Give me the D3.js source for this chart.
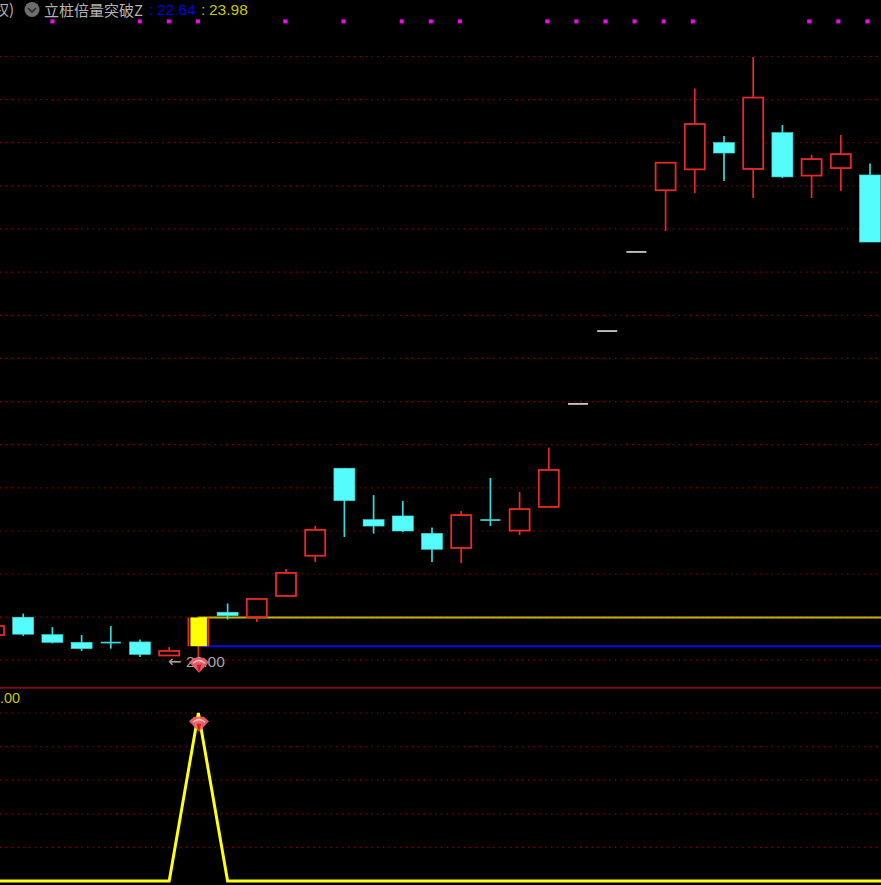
<!DOCTYPE html>
<html><head><meta charset="utf-8">
<script src="https://cdn.jsdelivr.net/npm/d3@7"></script>
<style>html,body{margin:0;padding:0;background:#000;overflow:hidden}svg{display:block}</style>
</head><body><svg id="c" width="881" height="885"></svg>
<script>
const opens =[23.16,23.99,23.18,22.82,22.81,22.84,22.21,22.64,24.22,24.00,24.98,26.85,30.92,28.53,28.70,27.89,27.21,28.51,28.02,29.12,33.91,37.30,40.98,43.85,44.82,46.07,44.84,46.53,44.53,44.88,44.56];
const closes=[23.58,23.20,22.82,22.53,22.77,22.26,22.42,23.98,24.06,24.84,26.05,28.05,29.41,28.23,28.00,27.15,28.74,28.47,29.02,30.84,33.91,37.30,40.98,45.13,46.93,45.58,48.16,44.47,45.30,45.53,41.44];
const highs =[23.58,24.16,23.53,23.16,23.58,22.95,22.60,24.02,24.63,24.84,26.23,28.23,30.92,29.67,29.40,28.16,28.93,30.47,29.81,31.88,33.91,37.30,40.98,45.13,48.58,46.37,50.05,46.88,45.49,46.42,45.09];
const lows  =[23.16,23.12,22.77,22.42,22.53,22.14,22.21,22.00,23.88,23.77,24.93,26.56,27.72,27.88,27.95,26.56,26.51,28.23,27.81,29.12,33.91,37.30,40.98,41.95,43.72,44.28,43.49,44.42,43.49,43.81,41.44];
const priceTicks=[21.99,23.99,26.00,28.00,30.01,32.02,34.02,36.03,38.03,40.04,42.05,44.05,46.06,48.06,50.07];
const signalFlags=[2,5,6,7,10,12,14,15,16,19,20,21,22,23,24,28,29,30];
const indicator=[0,0,0,0,0,0,0,1,0,0,0,0,0,0,0,0,0,0,0,0,0,0,0,0,0,0,0,0,0,0,0,0];
const indicatorTicks=[0.2,0.4,0.6,0.8,1];
const limitUpIndex=7, upperLevel=23.98, lowerLevel=22.64, lowLabel="22.00";

const svg=d3.select("#c");
const W=881;
const x=d3.scaleLinear().domain([0,30]).range([-6,870]);
const fx=d3.scaleLinear().domain([0,30]).range([-5.8,867.4]);
const py=d3.scaleLinear().domain([22,50]).range([660,58]);
const iy=d3.scaleLinear().domain([0,1]).range([881,713]);
const RED="#e62a2a",CY="#54fcfc",GRID="#8a0000";
const hw=10;

// grids
svg.append("g").selectAll("line").data(priceTicks).join("line")
 .attr("x1",0).attr("x2",W).attr("y1",d=>py(d)).attr("y2",d=>py(d))
 .attr("stroke",GRID).attr("stroke-width",1.2).attr("stroke-dasharray","1.5 4.3");
svg.append("g").selectAll("line").data(indicatorTicks).join("line")
 .attr("x1",0).attr("x2",W).attr("y1",d=>iy(d)).attr("y2",d=>iy(d))
 .attr("stroke",GRID).attr("stroke-width",1.2).attr("stroke-dasharray","1.5 4.3");
svg.append("line").attr("x1",0).attr("x2",W).attr("y1",687.7).attr("y2",687.7).attr("stroke","#7d0b0b").attr("stroke-width",2);

// flags
svg.append("g").selectAll("rect").data(signalFlags).join("rect")
 .attr("x",d=>fx(d)-2).attr("y",19.4).attr("width",4).attr("height",4).attr("fill","#ff00ff");

// levels
const lx=x(limitUpIndex);
svg.append("line").attr("x1",lx).attr("x2",W).attr("y1",py(upperLevel)).attr("y2",py(upperLevel)).attr("stroke","#c8b400").attr("stroke-width",1.9);
svg.append("line").attr("x1",lx).attr("x2",W).attr("y1",py(lowerLevel)).attr("y2",py(lowerLevel)).attr("stroke","#0a0af0").attr("stroke-width",1.9);

// candles
const idx=d3.range(opens.length);
const g=svg.append("g");
idx.forEach(i=>{
  const o=opens[i],c=closes[i],h=highs[i],l=lows[i],cx=x(i);
  if(o===c){ // one-price
    g.append("line").attr("x1",cx-10).attr("x2",cx+10).attr("y1",py(o)).attr("y2",py(o)).attr("stroke","#f0f0f0").attr("stroke-width",1.5);
    return;
  }
  const up=c>o, col=up?RED:CY, t=py(Math.max(o,c)), b=py(Math.min(o,c));
  g.append("line").attr("x1",cx).attr("x2",cx).attr("y1",py(h)).attr("y2",py(l)).attr("stroke",up?RED:"#3cd8d8").attr("stroke-width",1.7);
  if(i===limitUpIndex){
    g.append("rect").attr("x",cx-8).attr("y",t).attr("width",16.5).attr("height",b-t).attr("fill","#ffff00");
    g.append("line").attr("x1",cx-10).attr("x2",cx-10).attr("y1",t).attr("y2",b).attr("stroke",RED).attr("stroke-width",1.8);
    g.append("line").attr("x1",cx+10).attr("x2",cx+10).attr("y1",t).attr("y2",b).attr("stroke",RED).attr("stroke-width",1.8);
  } else if(up){
    g.append("rect").attr("x",cx-hw).attr("y",t).attr("width",hw*2).attr("height",b-t).attr("fill","#000").attr("stroke",col).attr("stroke-width",1.8);
  } else if(b-t<2){
    g.append("line").attr("x1",cx-10).attr("x2",cx+10).attr("y1",t).attr("y2",t).attr("stroke","#3cd8d8").attr("stroke-width",1.7);
  } else {
    g.append("rect").attr("x",cx-10.5).attr("y",t).attr("width",21).attr("height",b-t).attr("fill",CY).attr("stroke","#3cd8d8").attr("stroke-width",.6);
  }
});

// indicator line
svg.append("path").datum(indicator)
 .attr("d",d3.line().x((d,i)=>x(i)).y(d=>iy(d)))
 .attr("fill","none").attr("stroke","#ffff14").attr("stroke-width",3).attr("stroke-linejoin","miter");

// gem markers
function gem(cx,cy){
  const s=svg.append("g").attr("transform",`translate(${cx},${cy})`).attr("opacity",.93);
  s.append("path").attr("d","M-10,-2.5 L-5,-7 L5,-7 L10,-2.5 L0,8 Z").attr("fill","#f2606e");
  s.append("path").attr("d","M-6,-1.5 Q0,-7 6,-1.5").attr("fill","none").attr("stroke","#ffd0d0").attr("stroke-width",1.5);
  s.append("path").attr("d","M-2.5,0 L0,7.5 L2.5,0 Z").attr("fill","#d81830");
}

// low label
const NF="'Liberation Sans',Arial,sans-serif";
const lowText=svg.append("text").attr("x",168).attr("y",667).attr("font-family",NF).attr("font-size",15.5).attr("fill","#a8a8a8");
lowText.append("tspan").attr("font-family","'DejaVu Sans'").attr("font-size",16).text("←");
lowText.append("tspan").attr("x",186).text(lowLabel);
gem(x(limitUpIndex)+.6,664.7);
gem(x(limitUpIndex)+.6,723.7);

// header
const F="'Noto Sans CJK SC','Liberation Sans',sans-serif";
svg.append("text").attr("x",-6).attr("y",15).attr("font-family",F).attr("font-size",15).attr("fill","#b4b4b4").text("权)");
svg.append("circle").attr("cx",32).attr("cy",9.5).attr("r",7.5).attr("fill","#6e6e6e");
svg.append("path").attr("d","M28,8 L32,12 L36,8").attr("fill","none").attr("stroke","#2a2a2a").attr("stroke-width",1.6);
svg.append("text").attr("x",44).attr("y",15.5).attr("font-family",F).attr("font-size",15).attr("fill","#b4b4b4").text("立桩倍量突破Z");
svg.append("text").attr("x",149).attr("y",15).attr("font-family",NF).attr("font-size",15.5).attr("fill","#0000e0").text(":");
svg.append("text").attr("x",157).attr("y",15).attr("font-family",NF).attr("font-size",15.5).attr("fill","#0000e0").text(lowerLevel.toFixed(2));
svg.append("text").attr("x",201).attr("y",15).attr("font-family",NF).attr("font-size",15.5).attr("fill","#c8c800").text(":");
svg.append("text").attr("x",209).attr("y",15).attr("font-family",NF).attr("font-size",15.5).attr("fill","#c8c800").text(upperLevel.toFixed(2));
svg.append("text").attr("x",0).attr("y",703).attr("font-family",NF).attr("font-size",14.5).attr("fill","#c8c800").text(".00");
</script></body></html>
